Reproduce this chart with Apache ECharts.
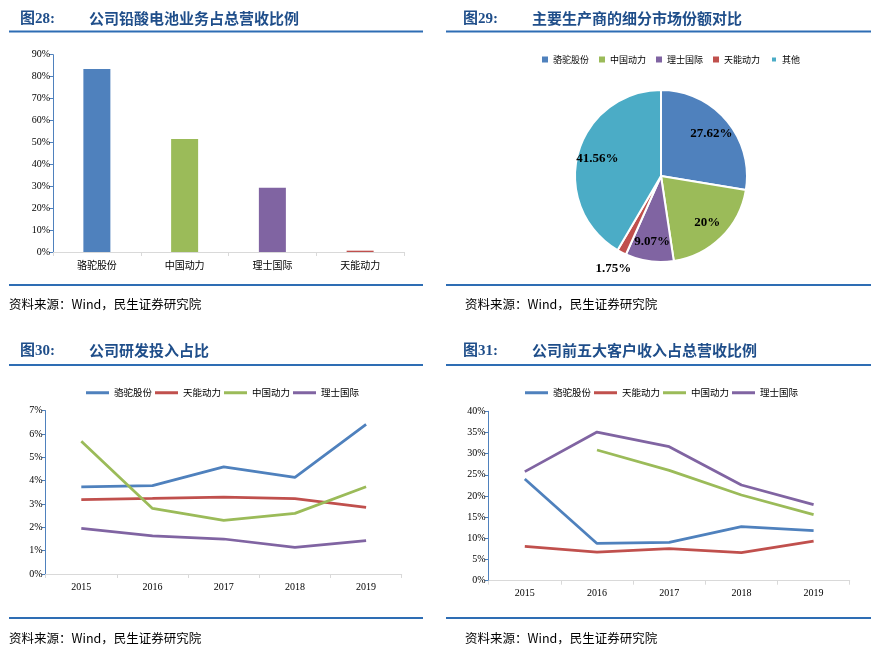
<!DOCTYPE html>
<html>
<head>
<meta charset="utf-8">
<script src="https://cdn.jsdelivr.net/npm/echarts@6/dist/echarts.min.js"></script>
<style>
html,body{margin:0;padding:0;background:#fff;}
#main{width:874px;height:657px;}
</style>
</head>
<body>
<div id="main"></div>
<script>
// ---- Data ----
const barCategories = ['骆驼股份', '中国动力', '理士国际', '天能动力'];
const barValues = [83.5, 51.6, 29.3, 0.6];
const yTicksBar = [0, 10, 20, 30, 40, 50, 60, 70, 80, 90];

const pieNames = ['骆驼股份', '中国动力', '理士国际', '天能动力', '其他'];
const pieValues = [27.62, 20, 9.07, 1.75, 41.56];

const years = ['2015', '2016', '2017', '2018', '2019'];
const lineNames = ['骆驼股份', '天能动力', '中国动力', '理士国际'];
// 图30 研发投入占比 (%)
const rdLuotuo = [3.74, 3.79, 4.59, 4.14, 6.41];
const rdTianneng = [3.19, 3.24, 3.30, 3.23, 2.86];
const rdZhongguo = [5.69, 2.81, 2.30, 2.60, 3.74];
const rdLishi = [1.96, 1.63, 1.50, 1.14, 1.43];
// 图31 前五大客户收入占比 (%)
const cLuotuo = [24.0, 8.8, 9.06, 12.76, 11.8];
const cTianneng = [8.1, 6.77, 7.56, 6.61, 9.37];
const cZhongguo = [null, 30.87, 26.06, 20.24, 15.59];
const cLishi = [25.75, 35.1, 31.65, 22.6, 17.95];

// ---- Styles ----
const C = {
  '骆驼股份': '#4F81BD',
  '中国动力': '#9BBB59',
  '理士国际': '#8064A2',
  '天能动力': '#C0504D',
  '其他': '#4BACC6'
};
const titleBlue = '#1F4E8A';
const ruleBlue = '#2E6DB4';
const axisBlue = '#4F81BD';
const axisGray = '#D9D9D9';
const serif = '"Liberation Serif","Times New Roman",serif';
const cjk = '"Noto Sans CJK SC","Noto Sans",sans-serif';

function yAxis(gridIndex, max, interval) {
  return {
    type: 'value', gridIndex, min: 0, max, interval,
    axisLine: {show: true, lineStyle: {color: axisBlue, width: 1}},
    axisTick: {show: true, length: 4, lineStyle: {color: axisBlue}},
    splitLine: {show: false},
    axisLabel: {formatter: '{value}%', fontFamily: serif, fontSize: 10, color: '#000', margin: 3}
  };
}
function xAxis(gridIndex, data, font) {
  return {
    type: 'category', gridIndex, data,
    axisLine: {show: true, lineStyle: {color: axisGray, width: 1}},
    axisTick: {show: true, length: 4, lineStyle: {color: axisGray}},
    axisLabel: {fontFamily: font, fontSize: 10, color: '#000', margin: 8}
  };
}
function lineSeries(name, data, xi, yi) {
  return {
    type: 'line', name, data, xAxisIndex: xi, yAxisIndex: yi,
    symbol: 'none', smooth: false, connectNulls: false,
    lineStyle: {color: C[name], width: 2.75},
    itemStyle: {color: C[name]}
  };
}

const rdSeries = [rdLuotuo, rdTianneng, rdZhongguo, rdLishi];
const cSeries = [cLuotuo, cTianneng, cZhongguo, cLishi];

const pieData = pieNames.map((n, i) => ({name: n, value: pieValues[i], itemStyle: {color: C[n]}}));

function rule(x1, x2, y) {
  return {type: 'line', silent: true, shape: {x1, y1: y, x2, y2: y}, style: {stroke: ruleBlue, lineWidth: 2}};
}

const graphics = [
  // titles
  {type: 'text', left: 20, top: 12, silent: true, style: {text: '图28:', font: 'bold 15px ' + serif + ',' + cjk, fill: titleBlue}},
  {type: 'text', left: 89, top: 11, silent: true, style: {text: '公司铅酸电池业务占总营收比例', font: 'bold 15px ' + cjk, fill: titleBlue}},
  {type: 'text', left: 463, top: 12, silent: true, style: {text: '图29:', font: 'bold 15px ' + serif + ',' + cjk, fill: titleBlue}},
  {type: 'text', left: 532, top: 11, silent: true, style: {text: '主要生产商的细分市场份额对比', font: 'bold 15px ' + cjk, fill: titleBlue}},
  {type: 'text', left: 20, top: 344, silent: true, style: {text: '图30:', font: 'bold 15px ' + serif + ',' + cjk, fill: titleBlue}},
  {type: 'text', left: 89, top: 343, silent: true, style: {text: '公司研发投入占比', font: 'bold 15px ' + cjk, fill: titleBlue}},
  {type: 'text', left: 463, top: 344, silent: true, style: {text: '图31:', font: 'bold 15px ' + serif + ',' + cjk, fill: titleBlue}},
  {type: 'text', left: 532, top: 343, silent: true, style: {text: '公司前五大客户收入占总营收比例', font: 'bold 15px ' + cjk, fill: titleBlue}},
  // rules
  rule(9, 423, 31.5), rule(446, 871, 31.5),
  rule(9, 423, 285), rule(446, 871, 285),
  rule(9, 423, 365), rule(446, 871, 365),
  rule(9, 423, 618), rule(446, 871, 618),
  // sources
  {type: 'text', left: 9, top: 298, silent: true, style: {text: '资料来源：Wind，民生证券研究院', font: '12.5px ' + cjk, fill: '#000'}},
  {type: 'text', left: 465, top: 298, silent: true, style: {text: '资料来源：Wind，民生证券研究院', font: '12.5px ' + cjk, fill: '#000'}},
  {type: 'text', left: 9, top: 632, silent: true, style: {text: '资料来源：Wind，民生证券研究院', font: '12.5px ' + cjk, fill: '#000'}},
  {type: 'text', left: 465, top: 632, silent: true, style: {text: '资料来源：Wind，民生证券研究院', font: '12.5px ' + cjk, fill: '#000'}}
];

const option = {
  animation: false,
  backgroundColor: '#fff',
  textStyle: {fontFamily: cjk},
  graphic: graphics,
  grid: [
    {left: 53, top: 54.7, width: 351, height: 197.3},
    {left: 45.7, top: 410.7, width: 356, height: 163.3},
    {left: 488.7, top: 411.3, width: 361, height: 169.4}
  ],
  xAxis: [
    xAxis(0, barCategories, cjk),
    xAxis(1, years, serif),
    xAxis(2, years, serif)
  ],
  yAxis: [
    yAxis(0, 90, 10),
    yAxis(1, 7, 1),
    yAxis(2, 40, 5)
  ],
  legend: [
    {data: pieNames, left: 537, top: 50, icon: 'rect', itemWidth: 6, itemHeight: 6, itemGap: 10,
     textStyle: {fontFamily: cjk, fontSize: 9, color: '#000'}, selectedMode: false},
    {data: lineNames, left: 81, top: 383, icon: 'rect', itemWidth: 23, itemHeight: 3, itemGap: 3,
     textStyle: {fontFamily: cjk, fontSize: 9.5, color: '#000'}, selectedMode: false},
    {data: lineNames, left: 520, top: 383, icon: 'rect', itemWidth: 23, itemHeight: 3, itemGap: 3,
     textStyle: {fontFamily: cjk, fontSize: 9.5, color: '#000'}, selectedMode: false}
  ],
  series: [
    {
      type: 'pie', name: '份额', center: [661, 176], radius: 86,
      startAngle: 90, clockwise: true, data: pieData,
      itemStyle: {borderColor: '#fff', borderWidth: 2},
      label: {show: false}, labelLine: {show: false}, emphasis: {disabled: true}
    },
    {
      type: 'pie', name: '份额标签', center: [661, 176], radius: [40, 86],
      startAngle: 90, clockwise: true, silent: true,
      data: pieNames.map((n, i) => ({name: n, value: pieValues[i],
        label: {show: n !== '天能动力'}})),
      itemStyle: {color: 'rgba(0,0,0,0)', borderWidth: 0},
      label: {show: true, position: 'inside', formatter: '{c}%', fontFamily: serif, fontWeight: 'bold', fontSize: 13, color: '#000'},
      labelLine: {show: false}, emphasis: {disabled: true}
    },
    {
      type: 'pie', name: '份额标签外', center: [661, 176], radius: [86, 116],
      startAngle: 90, clockwise: true, silent: true,
      data: pieNames.map((n, i) => ({name: n, value: pieValues[i],
        label: {show: n === '天能动力'}})),
      itemStyle: {color: 'rgba(0,0,0,0)', borderWidth: 0},
      label: {show: true, position: 'inside', formatter: '{c}%', fontFamily: serif, fontWeight: 'bold', fontSize: 13, color: '#000'},
      labelLine: {show: false}, emphasis: {disabled: true}
    },
    {
      type: 'bar', name: '营收占比', xAxisIndex: 0, yAxisIndex: 0, barWidth: 27,
      data: barValues.map((v, i) => ({value: v, itemStyle: {color: C[barCategories[i]]}}))
    },
    ...lineNames.map((n, i) => lineSeries(n, rdSeries[i], 1, 1)),
    ...lineNames.map((n, i) => lineSeries(n, cSeries[i], 2, 2))
  ]
};

const chart = echarts.init(document.getElementById('main'), null, {renderer: 'canvas'});
chart.setOption(option);
</script>
</body>
</html>
